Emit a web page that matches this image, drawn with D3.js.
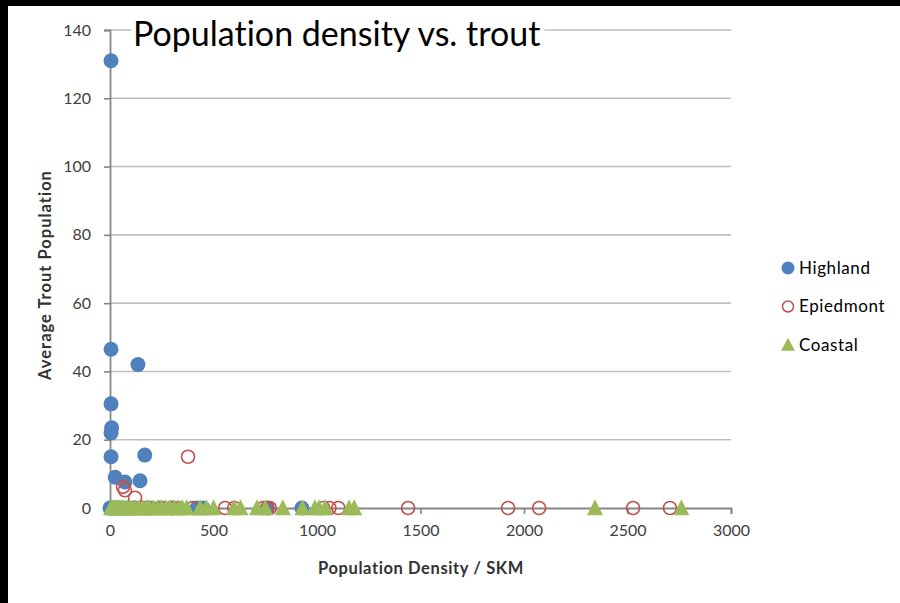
<!DOCTYPE html>
<html>
<head>
<meta charset="utf-8">
<script src="https://cdn.jsdelivr.net/npm/d3@7"></script>
<style>
  html, body { margin: 0; padding: 0; background: #000; }
  svg { display: block; }
  text { font-variant-ligatures: none; }
</style>
</head>
<body>
<svg id="chart" width="900" height="603"></svg>
<script>
// --- Data ---
const seriesNames = ["Highland", "Epiedmont", "Coastal"];

const highlandX = [5, 5, 5, 8, 5, 5, 135, 168, 25, 72, 145, 0, 12, 22, 40, 60, 90, 120, 180, 240, 300, 420, 450, 760, 927];
const highlandY = [131, 46.5, 30.5, 23.5, 22, 15, 42, 15.5, 9, 7.6, 8, 0, 0, 0, 0, 0, 0, 0, 0, 0, 0, 0, 0, 0, 0];

const piedmontX = [377, 63, 72, 121, 150, 200, 260, 300, 330, 400, 556, 600, 740, 760, 772, 1030, 1060, 1103, 1440, 1923, 2073, 2527, 2705];
const piedmontY = [15, 6.2, 5.2, 3, 0, 0, 0, 0, 0, 0, 0, 0, 0, 0, 0, 0, 0, 0, 0, 0, 0, 0, 0];

const coastalX = [5, 15, 25, 35, 45, 55, 65, 80, 95, 110, 125, 140, 160, 175, 190, 210, 230, 250, 270, 290, 310, 330, 350, 370,
  435, 465, 500, 600, 630, 710, 750, 835, 930, 990, 1010, 1040, 1155, 1180, 2343, 2760];
const coastalY = coastalX.map(() => 0);

const xTicks = [0, 500, 1000, 1500, 2000, 2500, 3000];
const yTicks = [0, 20, 40, 60, 80, 100, 120, 140];

// --- Layout ---
const svg = d3.select("#chart");
const width = 900, height = 603;
const plot = { left: 110, right: 731, top: 30, bottom: 508 };
const colors = { Highland: "#4f81bd", Epiedmont: "#c0504d", Coastal: "#9bbb59" };
const font = "Lato, 'Open Sans', sans-serif";

// white page inside black frame
svg.append("rect").attr("x", 0).attr("y", 0).attr("width", width).attr("height", height).attr("fill", "#000");
svg.append("rect").attr("x", 8).attr("y", 6).attr("width", width - 8).attr("height", height - 6).attr("fill", "#fff");

const x = d3.scaleLinear().domain([0, 3000]).range([plot.left, plot.right]);
const y = d3.scaleLinear().domain([0, 140]).range([plot.bottom, plot.top]);

// gridlines
svg.append("g")
  .selectAll("line")
  .data(yTicks.filter(d => d > 0))
  .join("line")
  .attr("x1", plot.left).attr("x2", plot.right)
  .attr("y1", d => y(d)).attr("y2", d => y(d))
  .attr("stroke", "#bfbfbf")
  .attr("stroke-width", 1.6);

// y axis
const yAxis = svg.append("g")
  .attr("transform", `translate(${plot.left},0)`)
  .call(d3.axisLeft(y).tickValues(yTicks).tickFormat(d3.format("d")).tickSize(6).tickPadding(13));
yAxis.select(".domain").attr("stroke", "#868686").attr("stroke-width", 1.8);
yAxis.selectAll(".tick line").attr("stroke", "#868686").attr("stroke-width", 1.6);
yAxis.selectAll(".tick text")
  .attr("font-family", font).attr("font-size", 16).attr("fill", "#404040");

// x axis
const xAxis = svg.append("g")
  .attr("transform", `translate(0,${plot.bottom})`)
  .call(d3.axisBottom(x).tickValues(xTicks).tickFormat(d3.format("d")).tickSize(6).tickPadding(8));
xAxis.select(".domain").attr("stroke", "#868686").attr("stroke-width", 1.8);
xAxis.selectAll(".tick line").attr("stroke", "#868686").attr("stroke-width", 1.6);
xAxis.selectAll(".tick text")
  .attr("font-family", font).attr("font-size", 16).attr("fill", "#404040")
  .attr("dy", "0.85em");

// axis titles
svg.append("text")
  .attr("x", 421).attr("y", 574)
  .attr("text-anchor", "middle")
  .attr("font-family", font).attr("font-size", 16.5).attr("font-weight", "bold").attr("fill", "#333")
  .attr("letter-spacing", 0.6)
  .text("Population Density / SKM");

svg.append("text")
  .attr("transform", "translate(51,275) rotate(-90)")
  .attr("text-anchor", "middle")
  .attr("font-family", font).attr("font-size", 16.5).attr("font-weight", "bold").attr("fill", "#333")
  .attr("letter-spacing", 1)
  .text("Average Trout Population");

// --- Marks (Highland, then Epiedmont, Coastal on top) ---
// triangle with its base just under the value line
const triPath = (w, h) => `M0,${-h * 0.55}L${w / 2},${h * 0.45}L${-w / 2},${h * 0.45}Z`;

svg.append("g")
  .selectAll("circle")
  .data(highlandX.map((d, i) => [d, highlandY[i]]))
  .join("circle")
  .attr("cx", d => x(d[0])).attr("cy", d => y(d[1]))
  .attr("r", 7.5)
  .attr("fill", colors.Highland);

svg.append("g")
  .selectAll("circle")
  .data(piedmontX.map((d, i) => [d, piedmontY[i]]))
  .join("circle")
  .attr("cx", d => x(d[0])).attr("cy", d => y(d[1]))
  .attr("r", 6.5)
  .attr("fill", "none")
  .attr("stroke", colors.Epiedmont)
  .attr("stroke-width", 1.6);

svg.append("g")
  .selectAll("path")
  .data(coastalX.map((d, i) => [d, coastalY[i]]))
  .join("path")
  .attr("d", triPath(16, 16))
  .attr("transform", d => `translate(${x(d[0])},${y(d[1])})`)
  .attr("fill", colors.Coastal);

// --- Title (white box over the top gridline) ---
const title = svg.append("text")
  .attr("x", 133).attr("y", 46)
  .attr("font-family", font).attr("font-size", 34).attr("fill", "#000")
  .text("Population density vs. trout");
const tb = title.node().getBBox();
svg.insert("rect", () => title.node())
  .attr("x", tb.x - 2).attr("y", tb.y + 5).attr("width", tb.width + 6).attr("height", tb.height - 5)
  .attr("fill", "#fff");

// --- Legend ---
const legend = svg.append("g").attr("transform", "translate(788,268)");
seriesNames.forEach((name, i) => {
  const g = legend.append("g").attr("transform", `translate(0,${i * 38.5})`);
  if (name === "Highland") {
    g.append("circle").attr("r", 6.5).attr("fill", colors.Highland);
  } else if (name === "Epiedmont") {
    g.append("circle").attr("r", 5.5).attr("fill", "none").attr("stroke", colors.Epiedmont).attr("stroke-width", 1.5);
  } else {
    g.append("path").attr("d", triPath(14, 13)).attr("fill", colors.Coastal);
  }
  g.append("text")
    .attr("x", 11).attr("dy", "0.35em")
    .attr("font-family", font).attr("font-size", 17).attr("fill", "#000")
    .attr("letter-spacing", 0.6)
    .text(name);
});
</script>
</body>
</html>
